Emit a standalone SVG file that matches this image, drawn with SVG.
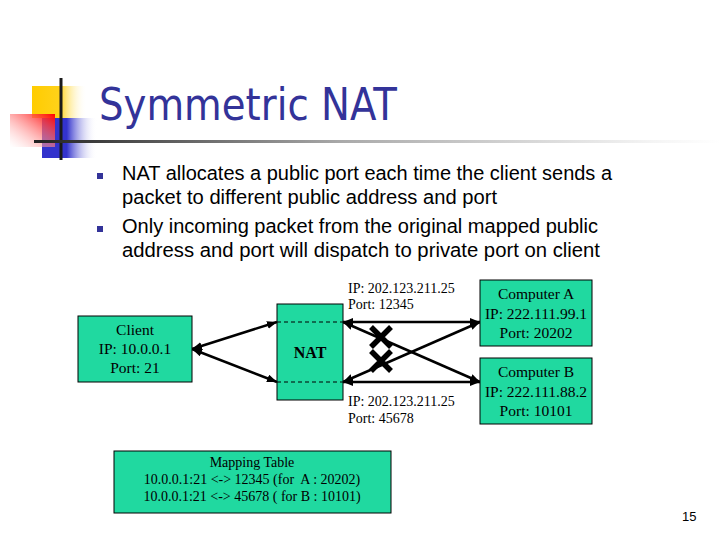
<svg xmlns="http://www.w3.org/2000/svg" width="720" height="540" viewBox="0 0 720 540">
<defs>
<linearGradient id="gy" x1="0" y1="0" x2="1" y2="0"><stop offset="0" stop-color="#FFCC00"/><stop offset="0.5" stop-color="#FFD21A"/><stop offset="1" stop-color="#FFFFFF" stop-opacity="0"/></linearGradient>
<linearGradient id="gb" x1="0" y1="0" x2="1" y2="0"><stop offset="0" stop-color="#3333CC"/><stop offset="0.45" stop-color="#3333CC"/><stop offset="1" stop-color="#FFFFFF" stop-opacity="0"/></linearGradient>
<linearGradient id="gr" x1="1" y1="0" x2="0" y2="1"><stop offset="0" stop-color="#FF0000"/><stop offset="1" stop-color="#FFFFFF" stop-opacity="0.3"/></linearGradient>
<linearGradient id="gl" x1="34" y1="0" x2="720" y2="0" gradientUnits="userSpaceOnUse"><stop offset="0" stop-color="#222222"/><stop offset="0.45" stop-color="#AAAAAA"/><stop offset="0.9" stop-color="#F4F4F4"/><stop offset="1" stop-color="#FFFFFF"/></linearGradient>
<marker id="ah" markerUnits="userSpaceOnUse" markerWidth="11" markerHeight="9" refX="10" refY="4" orient="auto-start-reverse"><path d="M0,0 L10,4 L0,8 Z" fill="#000"/></marker>
</defs>
<style>
.box{fill:#20D9A0;stroke:#000;stroke-width:1}
.t{font-family:"Liberation Serif","Times New Roman",serif;font-size:15.5px;fill:#000;text-anchor:middle;white-space:pre}
.m{font-size:14px}
.n{font-size:16px;font-weight:bold}
.lbl{font-family:"Liberation Serif","Times New Roman",serif;font-size:14px;fill:#000}
.body{font-family:"Liberation Sans",Arial,sans-serif;font-size:19.5px;fill:#000}
.c{stroke:#000;stroke-width:2.5;fill:none;marker-start:url(#ah);marker-end:url(#ah)}
.x{stroke:#000;stroke-width:5.5;stroke-linecap:butt}
</style>
<rect width="720" height="540" fill="#FFFFFF"/>
<g id="decor">
<rect x="32" y="86" width="55" height="32" fill="url(#gy)"/>
<rect x="42" y="118" width="55" height="40" fill="url(#gb)"/>
<rect x="10" y="114" width="45" height="33" fill="url(#gr)"/>
<line x1="61" y1="78" x2="61" y2="160" stroke="#1A1A1A" stroke-width="3"/>
<rect x="34" y="140" width="686" height="3" fill="url(#gl)"/>
</g>
<text x="99" y="120" font-family="'DejaVu Sans','Liberation Sans',sans-serif" font-size="44" fill="#333399" textLength="298" lengthAdjust="spacingAndGlyphs">Symmetric NAT</text>
<g id="bullets">
<rect x="97" y="173" width="6" height="6" fill="#333399"/>
<rect x="97" y="226" width="6" height="6" fill="#333399"/>
<text class="body" x="122" y="180" textLength="490" lengthAdjust="spacingAndGlyphs">NAT allocates a public port each time the client sends a</text>
<text class="body" x="122" y="204" textLength="375" lengthAdjust="spacingAndGlyphs">packet to different public address and port</text>
<text class="body" x="122" y="233" textLength="476" lengthAdjust="spacingAndGlyphs">Only incoming packet from the original mapped public</text>
<text class="body" x="122" y="257" textLength="478" lengthAdjust="spacingAndGlyphs">address and port will dispatch to private port on client</text>
</g>
<g id="connectors">
<line class="c" x1="192" y1="349" x2="277" y2="322"/>
<line class="c" x1="192" y1="349" x2="277" y2="382"/>
<line class="c" x1="343" y1="322" x2="480" y2="322"/>
<line class="c" x1="343" y1="382" x2="480" y2="382"/>
<line class="c" x1="343" y1="322" x2="480" y2="382"/>
<line class="c" x1="480" y1="322" x2="343" y2="382"/>
<path class="x" d="M371,327 L391,347 M391,327 L371,347"/>
<path class="x" d="M371,351 L391,371 M391,351 L371,371"/>
</g>
<g id="client">
<rect class="box" x="78" y="316" width="114" height="66"/>
<text class="t" x="135" y="335">Client</text>
<text class="t" x="135" y="354">IP: 10.0.0.1</text>
<text class="t" x="135" y="373">Port: 21</text>
</g>
<g id="nat">
<rect class="box" x="277" y="304" width="66" height="96"/>
<line x1="277" y1="322" x2="343" y2="322" stroke="#000" stroke-width="1" stroke-dasharray="4,3"/>
<line x1="277" y1="382" x2="343" y2="382" stroke="#000" stroke-width="1" stroke-dasharray="4,3"/>
<text class="t n" x="310" y="358">NAT</text>
</g>
<g id="labels">
<text class="lbl" x="348" y="293">IP: 202.123.211.25</text>
<text class="lbl" x="348" y="309">Port: 12345</text>
<text class="lbl" x="348" y="406">IP: 202.123.211.25</text>
<text class="lbl" x="348" y="423">Port: 45678</text>
</g>
<g id="computerA">
<rect class="box" x="480" y="280" width="112" height="66"/>
<text class="t" x="536" y="299">Computer A</text>
<text class="t" x="536" y="319">IP: 222.111.99.1</text>
<text class="t" x="536" y="338">Port: 20202</text>
</g>
<g id="computerB">
<rect class="box" x="480" y="358" width="112" height="66"/>
<text class="t" x="536" y="377">Computer B</text>
<text class="t" x="536" y="397">IP: 222.111.88.2</text>
<text class="t" x="536" y="416">Port: 10101</text>
</g>
<g id="mapping">
<rect class="box" x="114" y="451" width="277" height="62"/>
<text class="t m" x="252" y="467">Mapping Table</text>
<text class="t m" x="252" y="484">10.0.0.1:21 &lt;-&gt; 12345 (for  A : 20202)</text>
<text class="t m" x="252" y="501">10.0.0.1:21 &lt;-&gt; 45678 ( for B : 10101)</text>
</g>
<text x="682" y="521" font-family="'Liberation Sans',Arial,sans-serif" font-size="13" fill="#000">15</text>
</svg>
